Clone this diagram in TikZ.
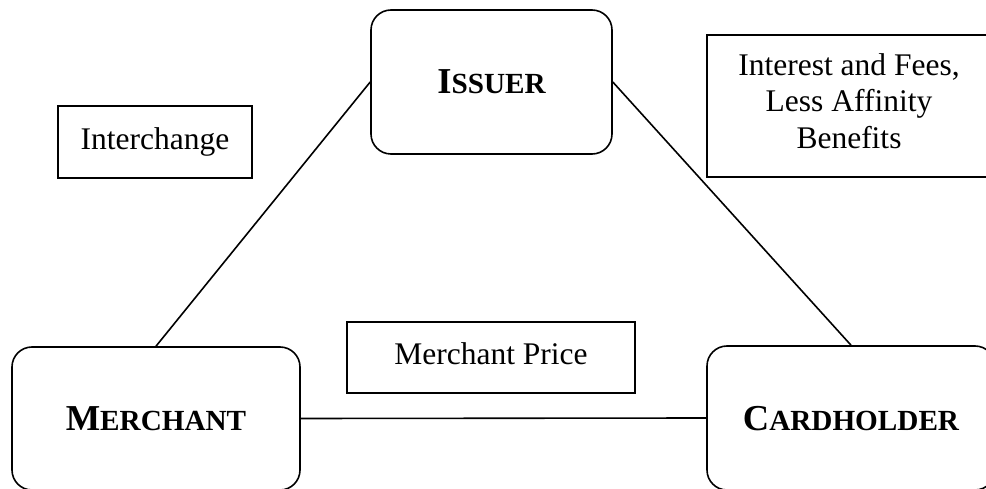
\documentclass[tikz,border=0pt]{standalone}
\usepackage{fontspec}
\setmainfont{Liberation Serif}
\newcommand{\scword}[2]{{\fontsize{36.5}{40}\selectfont\bfseries #1}{\fontsize{29.2}{32}\selectfont\bfseries #2}}
\begin{document}
\begin{tikzpicture}[x=1pt,y=-1pt,
  roundbox/.style={draw, line width=1.6pt, rounded corners=20pt, inner sep=0pt, text height=24pt, text depth=0pt},
  plainbox/.style={draw, line width=1.6pt, inner sep=0pt},
  link/.style={line width=1.6pt},
  lbl/.style={font=\fontsize{31.5}{36.5}\selectfont, text height=21.5pt, text depth=6.8pt}]
\useasboundingbox (0,0) rectangle (986,489);
\clip (0,0) rectangle (986,489);
\node[roundbox, minimum width=241pt, minimum height=144pt] (issuer) at (491.5,82) {\scword{I}{SSUER}};
\node[roundbox, minimum width=288pt, minimum height=143pt] (merchant) at (156,418.5) {\scword{M}{ERCHANT}};
\node[roundbox, minimum width=288pt, minimum height=144pt] (cardholder) at (851,418) {\scword{C}{ARDHOLDER}};
\node[plainbox, lbl, minimum width=194pt, minimum height=72pt] (interchange) at (155,142) {Interchange};
\node[plainbox, lbl, minimum width=288pt, minimum height=71pt] (price) at (491,357.5) {Merchant Price};
\node[plainbox, minimum width=282pt, minimum height=142pt] (fees) at (848,106) {};
\node[align=center, font=\fontsize{31.5}{36.5}\selectfont, inner sep=0pt] (feestext) at (849,101) {Interest and Fees,\\Less Affinity\\Benefits};
\draw[link] (issuer.west) -- (merchant.north);
\draw[link] (issuer.east) -- (cardholder.north);
\draw[link] (merchant.east) -- (cardholder.west);
\end{tikzpicture}
\end{document}
